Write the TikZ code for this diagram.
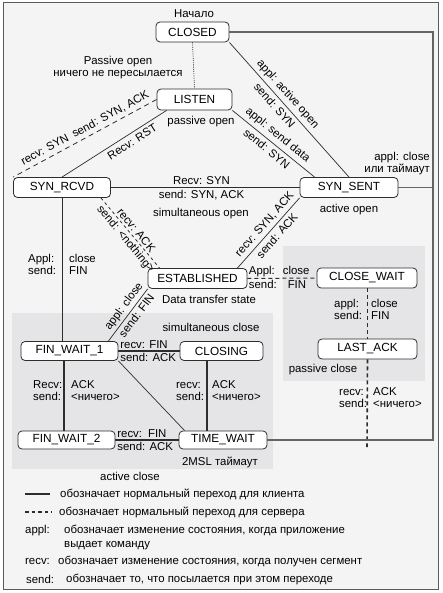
\documentclass[tikz,border=0pt]{standalone}
\usepackage{fontspec}
\setmainfont{Liberation Sans}
\usetikzlibrary{positioning}
\definecolor{pagebg}{RGB}{244,244,244}
\definecolor{zonebg}{RGB}{229,229,231}
\definecolor{framegray}{RGB}{90,90,90}
\definecolor{linegray}{RGB}{45,45,45}
\definecolor{loopgray}{RGB}{100,100,100}

\begin{document}
\begin{tikzpicture}[x=1pt, y=-1pt,
    state/.style={rectangle, rounded corners=4pt, draw=linegray, fill=white, line width=0.8pt, minimum height=20pt, inner sep=0pt, font=\fontsize{11.8}{13}\selectfont},
    lbl/.style={inner sep=1pt, font=\fontsize{11.4}{12}\selectfont},
    col/.style={lbl, align=left, anchor=west},
    up/.style={lbl, sloped, above=2.5pt},
    down/.style={lbl, sloped, below=2.5pt},
    trans/.style={draw=linegray, line width=0.7pt},
    client/.style={draw=linegray, line width=2pt},
    server/.style={draw=linegray, line width=1pt, dash pattern=on 4pt off 3pt},
    zone/.style={fill=zonebg},
    loopline/.style={draw=loopgray, line width=1.3pt}
]
\useasboundingbox (0,0) rectangle (442,593);
\draw[draw=framegray, fill=pagebg, line width=1pt] (3,3) rectangle (438,589);

% Shaded zones
\fill[zone] (283,246) rectangle (425,381);
\fill[zone] (12,313) rectangle (273,469);

% States
\node[state, minimum width=73pt] (closed) at (192.5,32) {CLOSED};
\node[state, minimum width=75pt, minimum height=21pt] (listen) at (194.5,99.5) {LISTEN};
\node[state, minimum width=97pt] (synrcvd) at (62,187.5) {SYN\_RCVD};
\node[state, minimum width=98pt] (synsent) at (349,187.5) {SYN\_SENT};
\node[state, minimum width=99pt] (established) at (197.5,278.5) {ESTABLISHED};
\node[state, minimum width=100pt] (closewait) at (367,278) {CLOSE\_WAIT};
\node[state, minimum width=99pt] (lastack) at (367.5,349) {LAST\_ACK};
\node[state, minimum width=97pt, minimum height=19pt] (finwait1) at (69.5,351) {FIN\_WAIT\_1};
\node[state, minimum width=83pt, minimum height=19pt] (closing) at (221.5,351) {CLOSING};
\node[state, minimum width=97pt, minimum height=18pt] (finwait2) at (66.5,440) {FIN\_WAIT\_2};
\node[state, minimum width=88pt, minimum height=18pt] (timewait) at (223,440) {TIME\_WAIT};

\coordinate (loopc) at (433,32);
\coordinate (lackend) at (367,447);

% Notes
\node[lbl] (start) at (194,14) {Начало};
\node[lbl, align=center] (pasnote) at (118,68) {Passive open\\ничего не пересылается};
\node[lbl] (pasopen) at (201,122) {passive open};
\node[lbl] (actopen) at (349,210) {active open};
\node[lbl, align=right, anchor=east] (timeout) at (431,163.5) {appl: close\\или таймаут};
\node[lbl] (datanote) at (209,299) {Data transfer state};
\node[lbl] (simclose) at (211,327) {simultaneous close};
\node[lbl] (pasclose) at (323,370) {passive close};
\node[lbl] (msl) at (220,462) {2MSL таймаут};
\node[lbl] (actclose) at (130,476) {active close};

% Opening
\draw[trans, dash pattern=on 1pt off 1.2pt] (closed.south) -- (listen.north);
\draw[trans] (closed.south east) -- node[up, pos=0.43] (ao1) {appl: active open} node[down, pos=0.43] (ao2) {send: SYN} (synsent.north);
\draw[trans] (listen.south east) -- node[up, pos=0.48] (sd1) {appl: send data} node[down, pos=0.48] (sd2) {send: SYN} ([xshift=15pt]synsent.north west);
\draw[server, line width=0.8pt, dash pattern=on 5pt off 4pt] (listen.west) -- node[up, pos=0.47] (sr1) {recv: SYN\enspace send: SYN, ACK} (synrcvd.north west);
\draw[trans] ([xshift=10pt]listen.south west) -- node[down, pos=0.37] (rst) {Recv: RST} (synrcvd.north);
\draw[trans, line width=1pt] (synrcvd.east) -- node[lbl, above=1pt, pos=0.48] (so1) {Recv: SYN} node[lbl, below=1pt, pos=0.48] (so2) {send: SYN, ACK} (synsent.west);
\node[lbl] (simopen) at (201,214) {simultaneous open};
\draw[server, line width=0.8pt, dash pattern=on 3pt off 3pt] ([xshift=-10pt]synrcvd.south east) -- node[lbl, sloped, above=1pt, pos=0.52] (ra1) {recv: ACK} node[lbl, sloped, below=1pt, pos=0.52] (ra2) {send: <nothing>} ([xshift=12pt]established.north west);
\draw[trans] (synsent.south west) -- node[up, pos=0.46] (sa1) {recv: SYN, ACK} node[down, pos=0.46] (sa2) {send: ACK} ([xshift=-10pt]established.north east);
\draw[loopline] (synsent.east) -- (synsent.east -| loopc);

% Closing, server side
\draw[server] (established.east) -- node[lbl, anchor=south west, pos=0] (cw1) {Appl:\hspace{8pt}close} node[lbl, anchor=north west, pos=0] (cw2) {send:\hspace{11pt}FIN} (closewait.west);
\draw[server] (closewait.south) -- (closewait.south |- lastack.north);
\node[col] (la1) at (333,309) {appl:\\send:};
\node[col] (la2) at (370,309) {close\\FIN};
\draw[server, line width=1.6pt] (lastack.south) -- (lackend);
\node[col] (lc1) at (338,398) {recv:\\send:};
\node[col] (lc2) at (372,398) {ACK\\<ничего>};

% Closing, client side
\draw[trans] (synrcvd.south) -- (synrcvd.south |- finwait1.north);
\node[col] (fc1) at (27,264) {Appl:\\send:};
\node[col] (fc2) at (68,264) {close\\FIN};
\draw[trans] (established.south west) -- node[lbl, sloped, above=1.5pt, pos=0.43] (ec1) {appl: close} node[lbl, sloped, below=1.5pt, pos=0.43] (ec2) {send: FIN} ([xshift=-10pt]finwait1.north east);
\draw[client] (finwait1.east) -- node[lbl, anchor=south west, pos=0] (fc3) {recv: FIN} node[lbl, anchor=north west, pos=0] (fc4) {send: ACK} (closing.west);
\draw[client] ([xshift=-5.5pt]finwait1.south) -- ([xshift=-5.5pt]finwait1.south |- finwait2.north);
\node[col] (fa1) at (32,391) {Recv:\\send:};
\node[col] (fa2) at (70,391) {ACK\\<ничего>};
\draw[client] ([xshift=-14.5pt]closing.south) -- ([xshift=-14.5pt]closing.south |- timewait.north);
\node[col] (ca1) at (175,391) {recv:\\send:};
\node[col] (ca2) at (211,391) {ACK\\<ничего>};
\draw[trans] (finwait1.south east) -- ([xshift=6pt]timewait.north west);
\draw[client] (finwait2.east) -- node[lbl, anchor=south west, pos=0] (tw1) {recv:\hspace{6pt}FIN} node[lbl, anchor=north west, pos=0] (tw2) {send: ACK} (timewait.west);
\draw[loopline] (timewait.east) -| (loopc) |- (closed.east);

% Legend
\coordinate (ls1) at (25,494);
\coordinate (le1) at (50,494);
\coordinate (ls2) at (25,512);
\coordinate (le2) at (52,512);
\draw[client] (ls1) -- (le1);
\draw[client, dash pattern=on 3.5pt off 3pt] (ls2) -- (le2);
\node[col] (lg1) at (59,494) {обозначает нормальный переход для клиента};
\node[col] (lg2) at (58,512) {обозначает нормальный переход для сервера};
\node[col] (lga) at (24,531) {appl:};
\node[col, font=\fontsize{11.4}{14}\selectfont, anchor=north west] (lg3) at (63,524) {обозначает изменение состояния, когда приложение\\выдает команду};
\node[col] (lgr) at (24,561) {recv:};
\node[col] (lg4) at (57,561) {обозначает изменение состояния, когда получен сегмент};
\node[col] (lgs) at (25,579) {send:};
\node[col] (lg5) at (65,579) {обозначает то, что посылается при этом переходе};

\end{tikzpicture}
\end{document}
